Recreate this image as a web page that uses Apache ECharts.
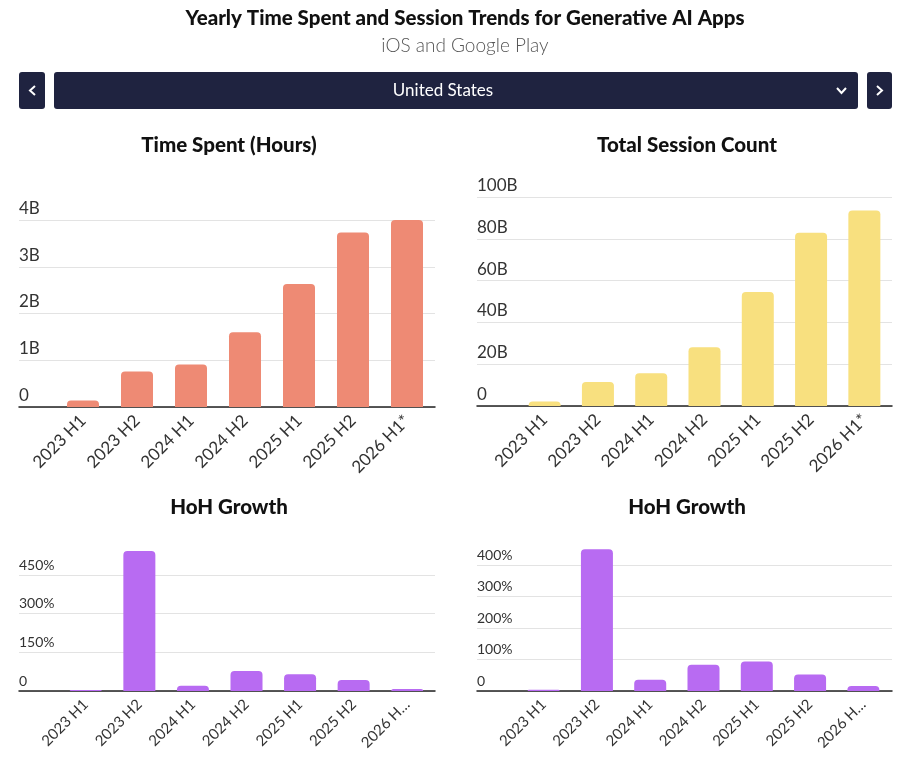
<!DOCTYPE html>
<html>
<head>
<meta charset="utf-8">
<script src="https://cdn.jsdelivr.net/npm/echarts@6/dist/echarts.min.js"></script>
<style>
    html, body { margin: 0; padding: 0; background: #fff; }
    #chart { width: 900px; height: 763px; }
</style>
</head>
<body>
<div id="chart"></div>
<script>
var periods = ['2023 H1', '2023 H2', '2024 H1', '2024 H2', '2025 H1', '2025 H2', '2026 H1*'];
var timeSpent = [0.14, 0.76, 0.91, 1.6, 2.63, 3.73, 4.0];      // billions of hours
var sessionCount = [2.1, 11.5, 15.7, 28.1, 54.5, 82.9, 93.6];  // billions
var timeGrowth = [4, 543, 20, 78, 65, 43, 8];                  // %
var sessionGrowth = [4, 450, 36, 83, 94, 52, 16];              // %

var FONT = 'Lato';
var chart = echarts.init(document.getElementById('chart'));

var grids = [], xAxes = [], yAxes = [], series = [];

// each panel = one grid for gridlines/labels + one grid for the bars
function panel(p) {
    var g = grids.length;
    var h = p.base - p.top;
    var barMax = p.barMax || p.max;
    var barTop = p.base - h * barMax / p.max;
    grids.push({ left: p.gx0, width: p.gx1 - p.gx0, top: p.top, height: h });
    grids.push({ left: p.bx0, width: p.bx1 - p.bx0, top: barTop, height: p.base - barTop });

    xAxes.push({
        gridIndex: g, type: 'category', data: periods,
        axisLine: { lineStyle: { color: '#222', width: 1.5 } },
        axisTick: { show: false }, axisLabel: { show: false }
    });
    xAxes.push({
        gridIndex: g + 1, type: 'category', data: periods,
        axisLine: { show: false }, axisTick: { show: false },
        axisLabel: {
            rotate: 45, margin: p.lblMargin, fontSize: p.xSize, color: '#333', fontFamily: FONT,
            formatter: function (v) { return p.cut && v.length > 7 ? v.slice(0, 6) + '…' : v; }
        }
    });
    yAxes.push({
        gridIndex: g, type: 'value', min: 0, max: p.max, interval: p.interval,
        axisLine: { show: false }, axisTick: { show: false },
        splitLine: { lineStyle: { color: '#e3e3e3' } },
        axisLabel: {
            inside: true, margin: 0, align: 'left', verticalAlign: 'bottom',
            padding: [0, 0, 3, 0], fontSize: p.ySize, color: '#333', fontFamily: FONT,
            formatter: p.fmt
        }
    });
    yAxes.push({ gridIndex: g + 1, type: 'value', min: 0, max: barMax, show: false });

    series.push({
        type: 'bar', xAxisIndex: g + 1, yAxisIndex: g + 1, data: p.data,
        barWidth: 32, itemStyle: { color: p.color, borderRadius: [4, 4, 0, 0] },
        silent: true
    });
}

panel({
    gx0: 19, gx1: 435, bx0: 56, bx1: 434, top: 220, base: 407, max: 4, interval: 1,
    data: timeSpent, color: '#ee8a74', ySize: 17, xSize: 17, lblMargin: 11,
    fmt: function (v) { return v === 0 ? '0' : v + 'B'; }
});
panel({
    gx0: 477, gx1: 892, bx0: 518, bx1: 891, top: 197, base: 406, max: 100, interval: 20,
    data: sessionCount, color: '#f8e07f', ySize: 17, xSize: 17, lblMargin: 11,
    fmt: function (v) { return v === 0 ? '0' : v + 'B'; }
});
panel({
    gx0: 19, gx1: 435, bx0: 59, bx1: 434, top: 575, base: 691, max: 450, interval: 150, barMax: 560,
    data: timeGrowth, color: '#b86bf2', ySize: 14, xSize: 15, lblMargin: 11, cut: true,
    fmt: function (v) { return v === 0 ? '0' : v + '%'; }
});
panel({
    gx0: 477, gx1: 892, bx0: 517, bx1: 890, top: 565, base: 691, max: 400, interval: 100, barMax: 460,
    data: sessionGrowth, color: '#b86bf2', ySize: 14, xSize: 15, lblMargin: 11, cut: true,
    fmt: function (v) { return v === 0 ? '0' : v + '%'; }
});

var headStyle = { fontFamily: FONT, fontSize: 20.5, fontWeight: 900, color: '#111' };
var navy = '#1f2340';

var option = {
    animation: false,
    title: [
        { text: 'Yearly Time Spent and Session Trends for Generative AI Apps', left: 465, textAlign: 'center', top: 8, padding: 0,
          textStyle: { fontFamily: FONT, fontSize: 20.5, fontWeight: 900, color: '#111' } },
        { text: 'iOS and Google Play', left: 465, textAlign: 'center', top: 36, padding: 0,
          textStyle: { fontFamily: FONT, fontSize: 19, fontWeight: 300, color: '#555' } },
        { text: 'Time Spent (Hours)', left: 229, textAlign: 'center', top: 135, padding: 0, textStyle: headStyle },
        { text: 'Total Session Count', left: 687, textAlign: 'center', top: 135, padding: 0, textStyle: headStyle },
        { text: 'HoH Growth', left: 229, textAlign: 'center', top: 497, padding: 0, textStyle: headStyle },
        { text: 'HoH Growth', left: 687, textAlign: 'center', top: 497, padding: 0, textStyle: headStyle }
    ],
    graphic: [
        { type: 'rect', shape: { x: 19, y: 72, width: 26, height: 37, r: 3 }, style: { fill: navy } },
        { type: 'rect', shape: { x: 54, y: 72, width: 804, height: 37, r: 3 }, style: { fill: navy } },
        { type: 'rect', shape: { x: 867, y: 72, width: 25, height: 37, r: 3 }, style: { fill: navy } },
        { type: 'polyline', shape: { points: [[35, 86], [30, 90.5], [35, 95]] },
          style: { stroke: '#fff', lineWidth: 2, fill: null } },
        { type: 'polyline', shape: { points: [[877, 86], [882, 90.5], [877, 95]] },
          style: { stroke: '#fff', lineWidth: 2, fill: null } },
        { type: 'polyline', shape: { points: [[837, 88], [841.5, 93], [846, 88]] },
          style: { stroke: '#fff', lineWidth: 2, fill: null } },
        { type: 'text', x: 443, y: 91,
          style: { text: 'United States', fill: '#fff', font: '17px ' + FONT, textAlign: 'center', textVerticalAlign: 'middle' } }
    ],
    grid: grids,
    xAxis: xAxes,
    yAxis: yAxes,
    series: series
};

chart.setOption(option);
</script>
</body>
</html>
